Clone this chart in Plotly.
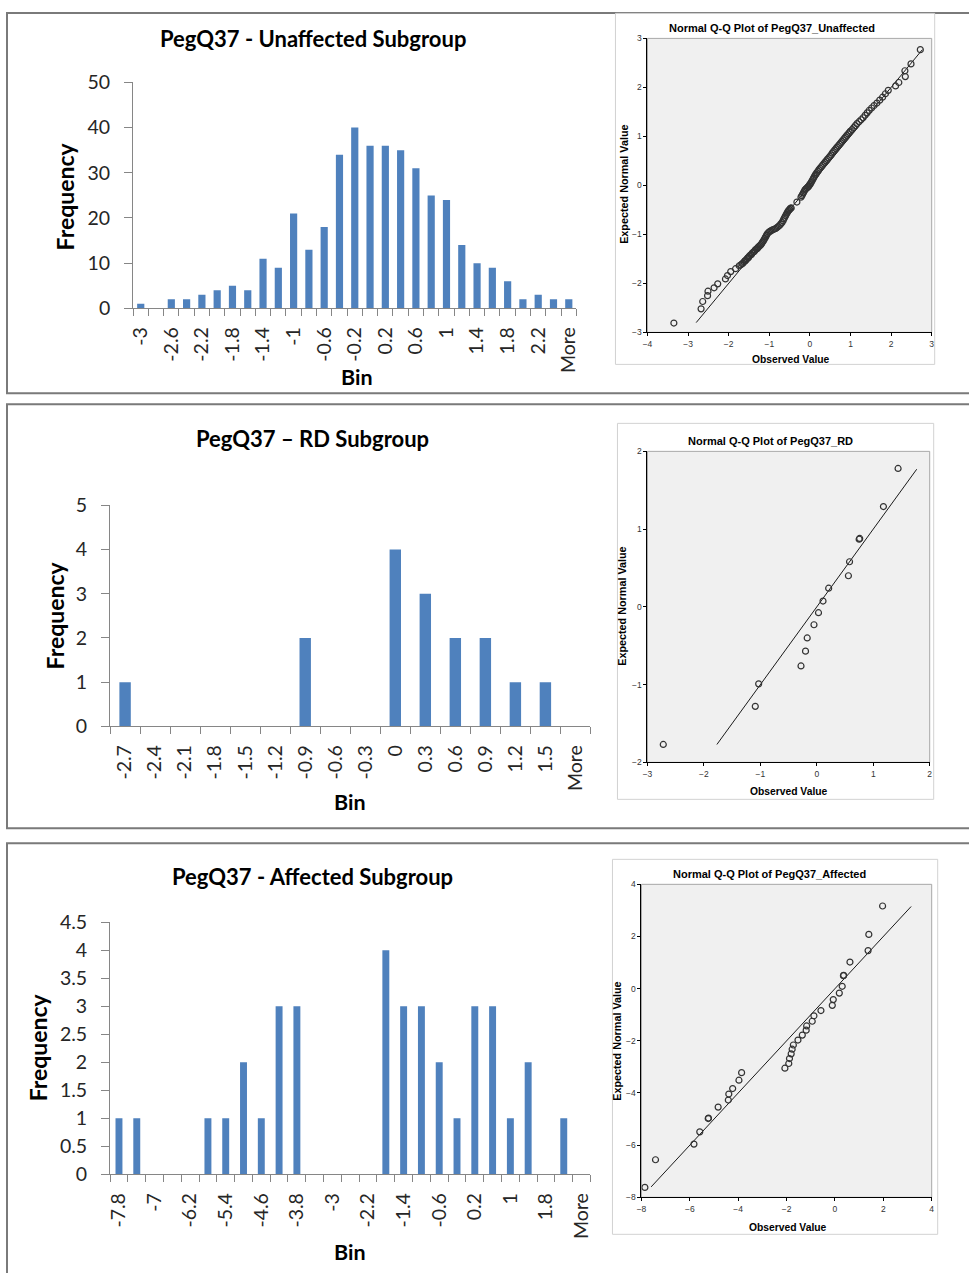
import plotly.graph_objects as go

W, H = 969, 1273
# placement calibration: layout positions below are given in final picture pixels
SX, OX = 0.991, 5.0
SY, OY = 0.982, 12.6

# ---------------- histogram data ----------------
unaff_bins = ["-3", "-2.8", "-2.6", "-2.4", "-2.2", "-2", "-1.8", "-1.6", "-1.4", "-1.2",
              "-1", "-0.8", "-0.6", "-0.4", "-0.2", "0", "0.2", "0.4", "0.6", "0.8",
              "1", "1.2", "1.4", "1.6", "1.8", "2", "2.2", "2.4", "More"]
unaff_freq = [1, 0, 2, 2, 3, 4, 5, 4, 11, 9, 21, 13, 18, 34, 40, 36, 36, 35, 31, 25,
              24, 14, 10, 9, 6, 2, 3, 2, 2]

rd_bins = ["-2.7", "-2.4", "-2.1", "-1.8", "-1.5", "-1.2", "-0.9", "-0.6", "-0.3", "0",
           "0.3", "0.6", "0.9", "1.2", "1.5", "More"]
rd_freq = [1, 0, 0, 0, 0, 0, 2, 0, 0, 4, 3, 2, 2, 1, 1, 0]

aff_bins = ["-7.8", "-7.4", "-7", "-6.6", "-6.2", "-5.8", "-5.4", "-5", "-4.6", "-4.2",
            "-3.8", "-3.4", "-3", "-2.6", "-2.2", "-1.8", "-1.4", "-1", "-0.6", "-0.2",
            "0.2", "0.6", "1", "1.4", "1.8", "2.2", "More"]
aff_freq = [1, 1, 0, 0, 0, 1, 1, 2, 1, 3, 3, 0, 0, 0, 0, 4, 3, 3, 2, 1,
            3, 3, 1, 2, 0, 1, 0]

# ---------------- Q-Q plot data: (observed value, expected normal value) ----------------
qq_unaff_pts = [
    (-3.35, -2.81), (-2.68, -2.52), (-2.64, -2.37), (-2.52, -2.25), (-2.51, -2.16),
    (-2.36, -2.09), (-2.27, -2.01), (-2.08, -1.91), (-2.03, -1.84), (-1.95, -1.76),
    (-1.83, -1.70), (-1.74, -1.64),
    (-1.70, -1.62), (-1.67, -1.60), (-1.65, -1.59), (-1.62, -1.56), (-1.60, -1.54),
    (-1.58, -1.53), (-1.55, -1.50), (-1.53, -1.48), (-1.51, -1.47), (-1.49, -1.44),
    (-1.46, -1.42), (-1.44, -1.41), (-1.42, -1.38), (-1.39, -1.36), (-1.37, -1.35),
    (-1.35, -1.32), (-1.32, -1.30), (-1.30, -1.29), (-1.28, -1.27), (-1.26, -1.25),
    (-1.23, -1.23), (-1.21, -1.21), (-1.19, -1.19), (-1.17, -1.16), (-1.15, -1.14),
    (-1.13, -1.11), (-1.11, -1.08), (-1.09, -1.05), (-1.07, -1.02), (-1.05, -0.99),
    (-1.02, -0.96), (-0.99, -0.94), (-0.96, -0.93), (-0.93, -0.91), (-0.90, -0.90),
    (-0.87, -0.89), (-0.84, -0.88), (-0.81, -0.86), (-0.78, -0.84), (-0.75, -0.82),
    (-0.72, -0.79), (-0.69, -0.76), (-0.66, -0.72), (-0.64, -0.68), (-0.62, -0.65),
    (-0.60, -0.62), (-0.58, -0.59), (-0.56, -0.56), (-0.54, -0.53), (-0.52, -0.51),
    (-0.50, -0.49), (-0.48, -0.47), (-0.46, -0.46),
    (-0.32, -0.34),
    (-0.22, -0.24), (-0.20, -0.21), (-0.18, -0.18), (-0.16, -0.15), (-0.14, -0.12),
    (-0.12, -0.09), (-0.10, -0.07), (-0.07, -0.05), (-0.05, -0.03), (-0.03, -0.02),
    (-0.01, 0.01), (0.01, 0.03), (0.03, 0.06), (0.05, 0.09), (0.07, 0.12),
    (0.09, 0.15), (0.11, 0.18), (0.13, 0.21), (0.15, 0.23), (0.17, 0.26),
    (0.20, 0.29), (0.22, 0.32), (0.25, 0.35), (0.28, 0.38), (0.31, 0.41),
    (0.34, 0.44), (0.37, 0.47), (0.40, 0.50), (0.43, 0.53), (0.46, 0.56),
    (0.49, 0.59), (0.52, 0.62), (0.55, 0.66), (0.58, 0.69), (0.61, 0.72),
    (0.64, 0.75), (0.67, 0.78), (0.70, 0.81), (0.73, 0.84), (0.76, 0.87),
    (0.79, 0.90), (0.82, 0.93), (0.85, 0.96), (0.88, 0.99), (0.91, 1.02),
    (0.94, 1.05), (0.97, 1.08), (1.00, 1.11), (1.04, 1.14), (1.08, 1.18),
    (1.12, 1.22), (1.16, 1.26), (1.21, 1.30), (1.26, 1.34), (1.31, 1.38),
    (1.36, 1.43), (1.41, 1.48), (1.46, 1.53), (1.52, 1.58), (1.58, 1.63),
    (1.65, 1.68), (1.72, 1.74), (1.79, 1.80), (1.86, 1.87), (1.93, 1.94),
    (2.11, 2.03), (2.19, 2.10), (2.35, 2.22), (2.34, 2.34), (2.49, 2.48), (2.72, 2.77),
]
qq_unaff_ref = [-2.80, 2.77]

qq_rd_pts = [
    (-2.72, -1.77), (-1.09, -1.28), (-1.03, -0.99), (-0.28, -0.76), (-0.20, -0.57),
    (-0.17, -0.40), (-0.05, -0.23), (0.03, -0.075), (0.11, 0.075), (0.21, 0.24),
    (0.56, 0.40), (0.58, 0.58), (0.76, 0.88), (0.75, 0.87), (1.18, 1.29), (1.44, 1.78),
]
qq_rd_ref = [-1.77, 1.77]

qq_aff_pts = [
    (-7.86, -7.62), (-7.42, -6.56), (-5.83, -5.96), (-5.59, -5.49), (-5.23, -4.96),
    (-5.24, -4.98), (-4.83, -4.54), (-4.41, -4.27), (-4.39, -4.04), (-4.23, -3.83),
    (-3.97, -3.51), (-3.86, -3.22), (-2.07, -3.05), (-1.91, -2.87), (-1.88, -2.68),
    (-1.81, -2.50), (-1.77, -2.32), (-1.72, -2.16), (-1.53, -1.97), (-1.35, -1.78),
    (-1.19, -1.59), (-1.17, -1.43), (-0.94, -1.25), (-0.87, -1.04), (-0.58, -0.84),
    (-0.11, -0.64), (-0.07, -0.42), (0.18, -0.17), (0.30, 0.09), (0.36, 0.51),
    (0.35, 0.50), (0.62, 1.02), (1.37, 1.46), (1.40, 2.08), (1.97, 3.17),
]
qq_aff_ref = [-7.60, 3.15]

# ---------------- styling ----------------
BAR = "#4F81BD"
AXIS_GRAY = "#868686"
HFONT = "Lato, 'Open Sans', sans-serif"
QFONT = "'Liberation Sans', Arial, sans-serif"


def px(x):
    """picture column -> paper x"""
    return ((x - OX) / SX) / W


def py(y):
    """picture row -> paper y"""
    return 1 - ((y - OY) / SY) / H


def every_other(cats):
    return [c if i % 2 == 0 else "" for i, c in enumerate(cats)]


fig = go.Figure()

# histograms: (axis id, bins, freqs, labels, bar width, x px, y px, ymax, dtick)
hists = [
    ("", unaff_bins, unaff_freq, every_other(unaff_bins), 0.47, (133, 576), (83, 309), 50, 10),
    ("3", rd_bins, rd_freq, rd_bins, 0.38, (110, 590), (506, 727), 5, 1),
    ("5", aff_bins, aff_freq, every_other(aff_bins), 0.39, (110, 590), (923, 1175), 4.5, 0.5),
]

layout_axes = {}
for ax, bins, freq, labels, bw, xd, yd, ymax, dt in hists:
    fig.add_trace(go.Bar(x=bins, y=freq, width=bw, marker=dict(color=BAR, line=dict(width=0)),
                         xaxis="x" + ax, yaxis="y" + ax, showlegend=False))
    layout_axes["xaxis" + ax] = dict(
        domain=[px(xd[0]), px(xd[1])], anchor="y" + ax, type="category",
        categoryorder="array", categoryarray=bins, range=[-0.5, len(bins) - 0.5],
        tickmode="array", tickvals=bins, ticktext=labels, tickson="boundaries",
        ticks="outside", ticklen=7, tickcolor=AXIS_GRAY, tickwidth=1,
        showline=True, linecolor=AXIS_GRAY, linewidth=1, showgrid=False, zeroline=False,
        tickangle=-90, ticklabelstandoff=10,
        tickfont=dict(family=HFONT, size=19.5, color="#262626"))
    layout_axes["yaxis" + ax] = dict(
        domain=[py(yd[1]), py(yd[0])], anchor="x" + ax, range=[0, ymax], dtick=dt, tick0=0,
        ticks="outside", ticklen=8, tickcolor=AXIS_GRAY, tickwidth=1,
        showline=True, linecolor=AXIS_GRAY, linewidth=1, showgrid=False, zeroline=False,
        ticklabelstandoff=10,
        tickfont=dict(family=HFONT, size=19.5, color="#262626"))

# Q-Q plots: (axis id, points, ref line, x px, y px, xrange, yrange, dtick)
qqs = [
    ("2", qq_unaff_pts, qq_unaff_ref, (647, 931), (39, 333), [-4, 3], [-3, 3], 1),
    ("4", qq_rd_pts, qq_rd_ref, (647, 929), (452, 763), [-3, 2], [-2, 2], 1),
    ("6", qq_aff_pts, qq_aff_ref, (641, 931), (885, 1198), [-8, 4], [-8, 4], 2),
]

for ax, pts, ref, xd, yd, xr, yr, dt in qqs:
    obs = [p[0] for p in pts]
    exp = [p[1] for p in pts]
    fig.add_trace(go.Scatter(x=ref, y=ref, mode="lines", line=dict(color="#1a1a1a", width=1),
                             xaxis="x" + ax, yaxis="y" + ax, showlegend=False, hoverinfo="skip"))
    fig.add_trace(go.Scatter(x=obs, y=exp, mode="markers",
                             marker=dict(symbol="circle-open", size=6, color="#333333",
                                         line=dict(width=1.2)),
                             xaxis="x" + ax, yaxis="y" + ax, showlegend=False))
    common = dict(ticks="outside", ticklen=3, tickcolor="#000", tickwidth=1,
                  showline=True, linecolor="#000", linewidth=1, showgrid=False, zeroline=False,
                  tickfont=dict(family=QFONT, size=8.5, color="#333"))
    layout_axes["xaxis" + ax] = dict(domain=[px(xd[0]), px(xd[1])], anchor="y" + ax,
                                     range=xr, dtick=dt, tick0=0, **common)
    layout_axes["yaxis" + ax] = dict(domain=[py(yd[1]), py(yd[0])], anchor="x" + ax,
                                     range=yr, dtick=dt, tick0=0, **common)

shapes = []
# outer panel frames
for top, bot in [(13.6, 394), (405, 829), (844, 1300)]:
    shapes.append(dict(type="rect", xref="paper", yref="paper", x0=px(7), x1=px(1000),
                       y0=py(bot), y1=py(top), line=dict(color="#7a7a7a", width=2),
                       fillcolor="rgba(0,0,0,0)", layer="below"))
# Q-Q chart frames
for l, t, r, b in [(615, 14, 934, 365), (617, 424, 933, 800), (612, 860, 937, 1235)]:
    shapes.append(dict(type="rect", xref="paper", yref="paper", x0=px(l), x1=px(r),
                       y0=py(b), y1=py(t), line=dict(color="#d2d2d2", width=1),
                       fillcolor="white", layer="below"))
# Q-Q data-region backgrounds
for ax in ["2", "4", "6"]:
    shapes.append(dict(type="rect", xref="x%s domain" % ax, yref="y%s domain" % ax,
                       x0=0, x1=1, y0=0, y1=1, line=dict(color="#a8a8a8", width=1),
                       fillcolor="#F0F0F0", layer="below"))

annotations = []


def note(text, x, y, size, family, angle=0, color="#000"):
    annotations.append(dict(text=text, x=px(x), y=py(y), xref="paper", yref="paper",
                            showarrow=False, textangle=angle, xanchor="center", yanchor="middle",
                            font=dict(family=family, size=size, color=color)))


# histogram titles and axis titles
note("<b>PegQ37 - Unaffected Subgroup</b>", 313, 39, 22, HFONT)
note("<b>PegQ37 – RD Subgroup</b>", 312, 439, 22, HFONT)
note("<b>PegQ37 - Affected Subgroup</b>", 312, 877, 22, HFONT)
note("<b>Frequency</b>", 65, 197, 23, HFONT, -90)
note("<b>Frequency</b>", 55, 616, 23, HFONT, -90)
note("<b>Frequency</b>", 38, 1048, 23, HFONT, -90)
note("<b>Bin</b>", 357, 378, 21.5, HFONT)
note("<b>Bin</b>", 350, 803, 21.5, HFONT)
note("<b>Bin</b>", 350, 1253, 21.5, HFONT)

# Q-Q titles and axis titles
note("<b>Normal Q-Q Plot of PegQ37_Unaffected</b>", 771, 29, 11, QFONT)
note("<b>Normal Q-Q Plot of PegQ37_RD</b>", 770, 442, 11, QFONT)
note("<b>Normal Q-Q Plot of PegQ37_Affected</b>", 769, 875, 11, QFONT)
note("<b>Observed Value</b>", 790, 360, 10.3, QFONT)
note("<b>Observed Value</b>", 788, 792, 10.3, QFONT)
note("<b>Observed Value</b>", 787, 1228, 10.3, QFONT)
note("<b>Expected Normal Value</b>", 624, 185, 10.8, QFONT, -90)
note("<b>Expected Normal Value</b>", 622, 607, 10.8, QFONT, -90)
note("<b>Expected Normal Value</b>", 617, 1042, 10.8, QFONT, -90)

fig.update_layout(width=W, height=H, margin=dict(l=0, r=0, t=0, b=0),
                  paper_bgcolor="white", plot_bgcolor="rgba(0,0,0,0)",
                  shapes=shapes, annotations=annotations, **layout_axes)

fig.write_html("out.html")
